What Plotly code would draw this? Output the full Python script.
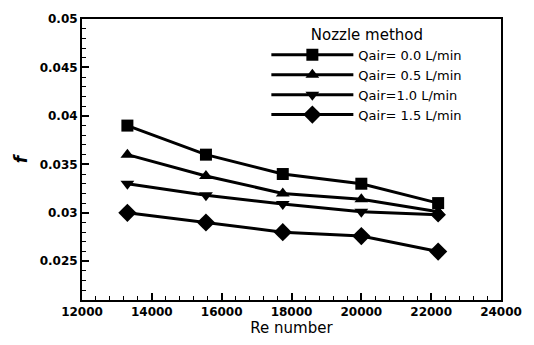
import plotly.graph_objects as go

re_number = [13300, 15550, 17750, 20000, 22200]
q00 = [0.0390, 0.0360, 0.0340, 0.0330, 0.0310]
q05 = [0.0360, 0.0338, 0.0320, 0.0314, 0.0301]
q10 = [0.0330, 0.0318, 0.0309, 0.0301, 0.0298]
q15 = [0.0300, 0.0290, 0.0280, 0.0276, 0.0260]
names = ["Qair= 0.0 L/min", "Qair= 0.5 L/min", "Qair=1.0 L/min", "Qair= 1.5 L/min"]

series = [q00, q05, q10, q15]
symbols = ["square", "triangle-up", ["triangle-down"] * 4 + ["diamond"], "diamond"]
sizes = [12, 12, 12, 14]

FONT = "DejaVu Sans, Arial, sans-serif"

fig = go.Figure()
for ys, nm, sym, sz in zip(series, names, symbols, sizes):
    fig.add_trace(go.Scatter(
        x=re_number, y=ys, name=nm, mode="lines+markers",
        line=dict(color="black", width=3),
        marker=dict(symbol=sym, size=sz, color="black", opacity=1,
                    line=dict(color="black", width=0)),
    ))

fig.update_layout(
    width=534, height=345,
    margin=dict(l=82, r=22, t=15, b=31),
    paper_bgcolor="white", plot_bgcolor="white",
    font=dict(family=FONT, color="black"),
    showlegend=True,
    legend=dict(
        x=0.44, y=0.995, xanchor="left", yanchor="top",
        bgcolor="rgba(0,0,0,0)",
        title=dict(text="Nozzle method", side="top center", font=dict(size=15, family=FONT)),
        font=dict(size=13, family=FONT),
        itemwidth=82,
        tracegroupgap=0,
    ),
)

fig.update_xaxes(
    range=[12000, 24000], dtick=2000, tick0=12000, tickformat="d",
    showgrid=False, zeroline=False,
    showline=True, linecolor="black", linewidth=2, mirror=True,
    ticks="inside", ticklen=7, tickwidth=1.5, tickcolor="black",
    minor=dict(ticks="inside", ticklen=4, dtick=400, tickcolor="black", tickwidth=1),
    tickfont=dict(size=12, family=FONT, weight="bold"),
    title=dict(text="Re number", font=dict(size=15, family=FONT), standoff=3),
)
fig.update_yaxes(
    range=[0.021, 0.05], dtick=0.005, tick0=0.02,
    tickformat="~g",
    showgrid=False, zeroline=False,
    showline=True, linecolor="black", linewidth=2, mirror=True,
    ticks="inside", ticklen=7, tickwidth=1.5, tickcolor="black",
    minor=dict(ticks="inside", ticklen=4, dtick=0.001, tickcolor="black", tickwidth=1),
    tickfont=dict(size=12, family=FONT, weight="bold"),
    title=dict(text="<b><i>f</i></b>", font=dict(size=17, family=FONT), standoff=8),
)

fig.write_html("out.html")
